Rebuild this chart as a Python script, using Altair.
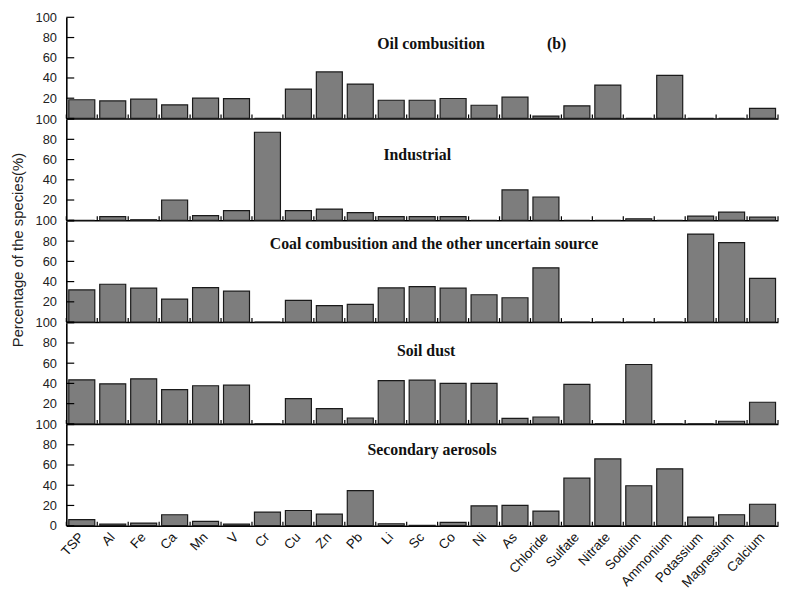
import altair as alt
import pandas as pd

species = ["TSP", "Al", "Fe", "Ca", "Mn", "V", "Cr", "Cu", "Zn", "Pb", "Li", "Sc",
           "Co", "Ni", "As", "Chloride", "Sulfate", "Nitrate", "Sodium", "Ammonium",
           "Potassium", "Magnesium", "Calcium"]

oil = [18.5, 17.3, 19, 13.4, 20, 19.5, 0, 29, 46, 34, 18, 18, 19.7, 13, 21, 2.3,
       12.5, 33, 0, 42.5, 0, 0, 10]
industrial = [0, 3.5, 0.5, 20, 4.5, 9.5, 87, 9.5, 11, 7.5, 3.5, 3.5, 3.5, 0, 30, 23,
              0, 0, 1.5, 0, 4, 8, 3]
coal = [31.8, 37.4, 33.5, 22.7, 34, 30.5, 0, 21.4, 16.2, 17.5, 33.8, 35, 33.5, 27,
        24, 53.6, 0, 0, 0, 0, 87, 78.6, 43.2]
soil = [43.5, 39.6, 44.5, 33.8, 37.7, 38.3, 0, 25, 15, 5.8, 42.8, 43.2, 40, 40, 5.5,
        6.8, 39, 0, 58.7, 0, 0, 2.6, 21.4]
secondary = [5.9, 1.6, 2.6, 10.8, 4.2, 1.6, 13.4, 15, 11.4, 34.6, 1.9, 0.3, 3.3, 19.6,
             20, 14.4, 47, 66, 39.5, 56.2, 8.5, 10.8, 21.2]

panel_titles = ["Oil combusition", "Industrial",
                "Coal combusition and the other uncertain source",
                "Soil dust", "Secondary aerosols"]
panel_values = [oil, industrial, coal, soil, secondary]
y_ticks = [0, 20, 40, 60, 80, 100]

# title placement inside each panel (pixels from plot's left/top)
title_pos = [(369, 27), (355, 36), (372, 23), (364, 29), (370, 26)]

W = 720
H = 102.3
SANS = "Liberation Sans"
SERIF = "Liberation Serif"

yscale = alt.Scale(domain=[0, 100], nice=False, zero=True)
xscale = alt.Scale(domain=species, paddingInner=0, paddingOuter=0)


def make_panel(i):
    vals = panel_values[i]
    last = i == len(panel_values) - 1
    df = pd.DataFrame({"species": species, "value": vals})

    xaxis = alt.Axis(title=None, labels=last, ticks=False, domain=True,
                     domainColor="black", domainWidth=1.6, grid=False,
                     labelAngle=-47, labelFontSize=13.5, labelFont=SANS,
                     labelColor="#111", labelPadding=9, labelAlign="right",
                     labelBaseline="middle")
    ykw = dict(values=y_ticks, ticks=False, grid=False, domain=True,
               domainColor="black", domainWidth=1.6, labelFontSize=13,
               labelFont=SANS, labelColor="#222", labelPadding=10)
    if not last:
        ykw["labelExpr"] = "datum.value == 0 ? '' : datum.label"
    if i == 2:
        ykw.update(title="Percentage of the species(%)", titleFont=SANS,
                   titleFontSize=15, titleFontWeight="normal", titleColor="#222",
                   titleY=29, titlePadding=10)
    else:
        ykw["title"] = None
    yaxis = alt.Axis(**ykw)

    bars = alt.Chart(df).mark_bar(
        width=alt.RelativeBandSize(band=0.84), color="#7d7d7d",
        stroke="#1a1a1a", strokeWidth=1.2
    ).encode(
        x=alt.X("species:N", sort=species, scale=xscale, axis=xaxis),
        y=alt.Y("value:Q", scale=yscale, axis=yaxis),
    )

    ytk = alt.Chart(pd.DataFrame({"value": y_ticks})).mark_rule(
        color="black", strokeWidth=1.2
    ).encode(
        y=alt.Y("value:Q", scale=yscale, axis=yaxis),
        x=alt.value(0), x2=alt.value(8),
    )

    xtk = alt.Chart(df).mark_rule(color="black", strokeWidth=1.2).encode(
        x=alt.X("species:N", sort=species, scale=xscale, bandPosition=0, axis=xaxis),
        y=alt.value(H), y2=alt.value(H - 4),
    )
    xtk_end = alt.Chart(df).transform_filter(
        "datum.species == 'Calcium'"
    ).mark_rule(color="black", strokeWidth=1.2).encode(
        x=alt.X("species:N", sort=species, scale=xscale, bandPosition=1, axis=xaxis),
        y=alt.value(H), y2=alt.value(H - 4),
    )

    tx, ty = title_pos[i]
    txt = alt.Chart(pd.DataFrame({"label": [panel_titles[i]]})).mark_text(
        font=SERIF, fontWeight="bold", fontSize=16, align="center",
        baseline="middle", color="#111"
    ).encode(text="label:N", x=alt.value(tx), y=alt.value(ty))

    layers = [bars, ytk, xtk, xtk_end, txt]
    if i == 0:
        tb = alt.Chart(pd.DataFrame({"label": ["(b)"]})).mark_text(
            font=SERIF, fontWeight="bold", fontSize=16, align="center",
            baseline="middle", color="#111"
        ).encode(text="label:N", x=alt.value(496), y=alt.value(27))
        layers.append(tb)

    return alt.layer(*layers).properties(width=W, height=H)


chart = alt.vconcat(
    *[make_panel(i) for i in range(len(panel_values))],
    spacing=0, bounds="flush"
).configure_view(
    stroke=None
).properties(
    padding={"left": 2, "top": 0, "right": 0, "bottom": 0},
    background="white"
)

chart.save("out.html", embed_options={"renderer": "svg", "actions": False})
